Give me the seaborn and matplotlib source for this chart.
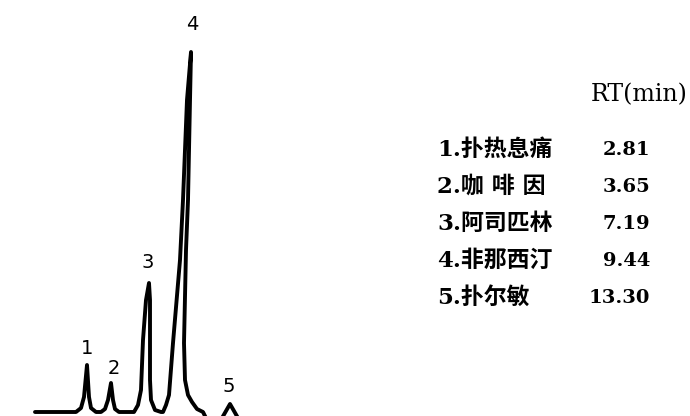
import matplotlib
matplotlib.use('Agg')
import matplotlib.pyplot as plt
import pandas as pd
import seaborn as sns

# Chromatogram trace (x = chart position, y = detector signal)
trace_x = [35, 76, 81, 84, 87, 89, 91, 96,
           101, 105, 108, 111, 113, 115, 119,
           134, 138, 141, 143, 146, 149, 150, 150, 151, 155, 161,
           163, 166, 169, 173, 180, 183, 187, 191,
           190, 188, 186, 184, 185, 188, 192, 197, 203,
           206, 222, 230, 238]
trace_y = [0, 0, 4, 15, 47, 15, 4, 0,
           0, 3, 12, 29, 12, 3, 0,
           0, 7, 22, 72, 112, 129, 112, 32, 12, 2, 0,
           0, 7, 17, 69, 152, 212, 312, 360,
           312, 212, 162, 69, 32, 17, 10, 3, 0,
           -6, -6, 8, -6]

# Peak numbers and where they sit above each peak
peak_labels = ['1', '2', '3', '4', '5']
peak_label_x = [87, 114, 148, 192, 229]
peak_label_y = [64, 44, 150, 387, 25]

# Legend table: compound names and retention times
compounds = ['1.扑热息痛', '2.咖 啡 因', '3.阿司匹林', '4.非那西汀', '5.扑尔敏']
rt_values = ['2.81', '3.65', '7.19', '9.44', '13.30']
row_y = [262, 225, 188, 151, 114]

df = pd.DataFrame({'x': trace_x, 'y': trace_y})

sns.set_style('white')
fams = ['DejaVu Serif', 'Noto Sans CJK SC']

fig = plt.figure(figsize=(6.9, 4.16), dpi=100)
ax = fig.add_axes([0, 0, 1, 1])
sns.lineplot(data=df, x='x', y='y', sort=False, estimator=None,
             color='black', linewidth=2.8, ax=ax)
for ln in ax.get_lines():
    ln.set_solid_joinstyle('round')
    ln.set_solid_capstyle('round')
ax.set_xlim(0, 690)
ax.set_ylim(-4, 412)
ax.axis('off')

for lab, lx, ly in zip(peak_labels, peak_label_x, peak_label_y):
    ax.text(lx, ly, lab, ha='center', va='center', fontsize=14,
            family='DejaVu Sans', color='black')

ax.text(688, 317, 'RT(min)', ha='right', va='center', fontsize=17,
        family='DejaVu Serif', color='black')
for name, rt, ry in zip(compounds, rt_values, row_y):
    ax.text(437, ry, name, ha='left', va='center', fontsize=16.5,
            family=fams, fontweight='bold', color='black')
    ax.text(650, ry, rt, ha='right', va='center', fontsize=14,
            family=fams, fontweight='bold', color='black')

fig.savefig('out.png', dpi=100)
